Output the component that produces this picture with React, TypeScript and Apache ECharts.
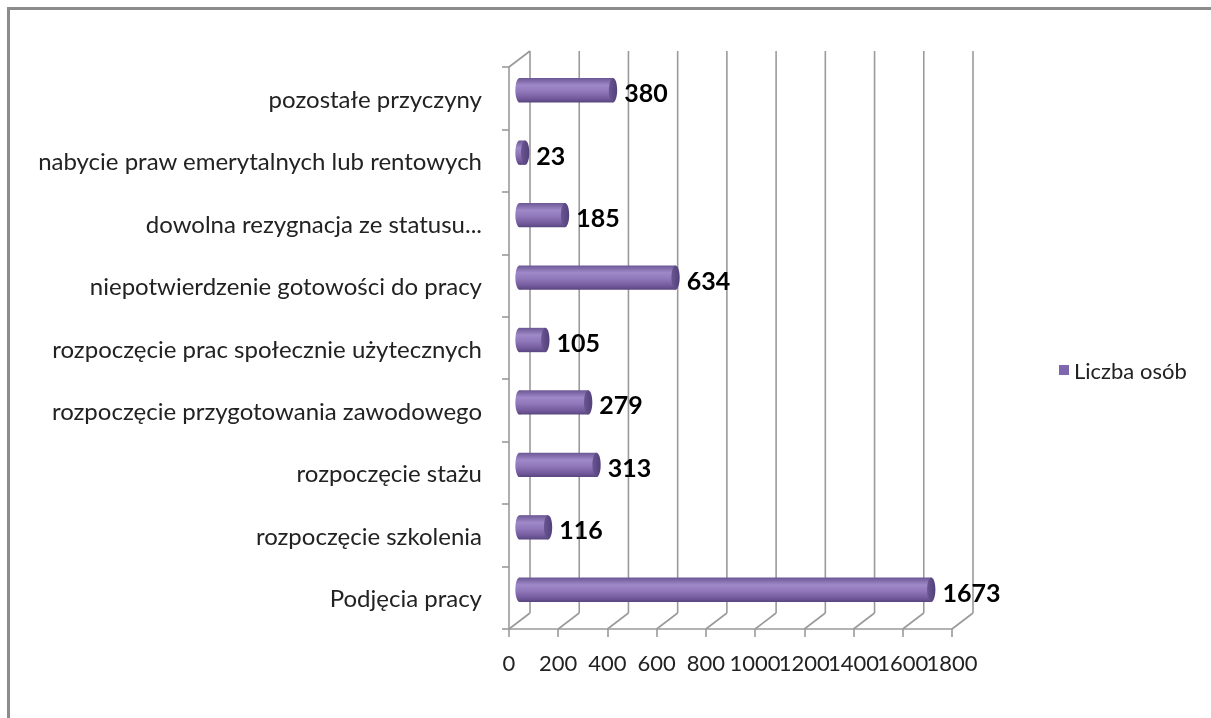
import { useEffect, useRef } from "react";
import * as echarts from "echarts";

const categories = [
  "pozostałe przyczyny",
  "nabycie praw emerytalnych lub rentowych",
  "dowolna rezygnacja ze statusu...",
  "niepotwierdzenie gotowości do pracy",
  "rozpoczęcie prac społecznie użytecznych",
  "rozpoczęcie przygotowania zawodowego",
  "rozpoczęcie stażu",
  "rozpoczęcie szkolenia",
  "Podjęcia pracy",
];
const values = [380, 23, 185, 634, 105, 279, 313, 116, 1673];
const xTicks = [0, 200, 400, 600, 800, 1000, 1200, 1400, 1600, 1800];
const seriesName = "Liczba osób";

const DX = 21;
const DY = -16;
const GRID = "#9a9a9a";
const FONT = "Lato";

export default function App() {
  const ref = useRef<HTMLDivElement>(null);
  useEffect(() => {
    if (!ref.current) return;
    const chart = echarts.init(ref.current, undefined, { renderer: "svg" });
    const bodyGrad = () =>
      new echarts.graphic.LinearGradient(0, 0, 0, 1, [
        { offset: 0, color: "#6c5795" },
        { offset: 0.3, color: "#9f89c8" },
        { offset: 0.55, color: "#9078bb" },
        { offset: 0.85, color: "#71599b" },
        { offset: 1, color: "#58457e" },
      ]);
    const capGrad = () =>
      new echarts.graphic.LinearGradient(0, 0, 1, 0, [
        { offset: 0, color: "#6a5690" },
        { offset: 1, color: "#52407a" },
      ]);
    chart.setOption({
      animation: false,
      backgroundColor: "transparent",
      textStyle: { fontFamily: FONT },
      legend: {
        data: [seriesName],
        orient: "vertical",
        left: 1054,
        top: 354,
        icon: "rect",
        itemWidth: 10,
        itemHeight: 10,
        itemGap: 6,
        textStyle: { fontSize: 22, color: "#222", fontFamily: FONT },
      },
      grid: { left: 509, top: 67, width: 443, height: 562, containLabel: false },
      xAxis: {
        type: "value",
        min: 0,
        max: 1800,
        interval: 200,
        axisLine: { show: true, lineStyle: { color: GRID, width: 1.6 } },
        axisTick: { show: true, length: 8, lineStyle: { color: GRID, width: 1.6 } },
        splitLine: { show: false },
        axisLabel: { show: false },
      },
      yAxis: {
        type: "category",
        inverse: true,
        data: categories,
        axisLine: { show: true, lineStyle: { color: GRID, width: 1.6 } },
        axisTick: { show: true, length: 7, alignWithLabel: false, lineStyle: { color: GRID, width: 1.6 } },
        axisLabel: { fontSize: 24, color: "#222", margin: 27, fontFamily: FONT },
        splitLine: { show: false },
      },
      series: [
        {
          type: "custom",
          name: "frame",
          silent: true,
          z: 1,
          data: xTicks.map((v) => [v, 0]),
          encode: { x: 0, y: 1 },
          renderItem: (params: any, api: any) => {
            const v = api.value(0);
            const x = api.coord([v, 0])[0];
            const cs = params.coordSys;
            const top = cs.y;
            const bottom = cs.y + cs.height;
            const ls = { stroke: GRID, lineWidth: 1.6, fill: null };
            const children: any[] = [
              { type: "line", shape: { x1: x + DX, y1: top + DY, x2: x + DX, y2: bottom + DY }, style: ls },
              { type: "line", shape: { x1: x + DX, y1: bottom + DY, x2: x, y2: bottom }, style: ls },
              {
                type: "text",
                style: {
                  text: String(v),
                  x,
                  y: bottom + 22,
                  textAlign: "center",
                  textVerticalAlign: "top",
                  align: "center",
                  verticalAlign: "top",
                  fontFamily: FONT,
                  fontSize: 22,
                  fill: "#222",
                },
              },
            ];
            if (v === 0) {
              children.push({ type: "line", shape: { x1: x, y1: top, x2: x + DX, y2: top + DY }, style: ls });
            }
            return { type: "group", children };
          },
        },
        {
          type: "custom",
          name: seriesName,
          z: 5,
          itemStyle: { color: "#7f67ad" },
          data: values.map((v, i) => [v, i]),
          encode: { x: 0, y: 1 },
          renderItem: (params: any, api: any) => {
            const val = api.value(0);
            const cat = api.value(1);
            const s = api.coord([0, cat]);
            const e = api.coord([val, cat]);
            const band = api.size([0, 1])[1];
            const h = band * 0.39;
            const xs = s[0] + DX / 2;
            const xe = e[0] + DX / 2;
            const cy = s[1] + DY / 2;
            const rx = h * 0.17;
            return {
              type: "group",
              children: [
                { type: "ellipse", shape: { cx: xs, cy, rx, ry: h / 2 }, style: { fill: bodyGrad() } },
                { type: "rect", shape: { x: xs, y: cy - h / 2, width: Math.max(0, xe - xs), height: h }, style: { fill: bodyGrad() } },
                { type: "ellipse", shape: { cx: xe, cy, rx, ry: h / 2 }, style: { fill: capGrad() } },
                {
                  type: "text",
                  style: {
                    text: String(val),
                    x: xe + rx + 7,
                    y: cy + 2,
                    textAlign: "left",
                    textVerticalAlign: "middle",
                    align: "left",
                    verticalAlign: "middle",
                    fontFamily: FONT,
                    fontWeight: "bold",
                    fontSize: 25,
                    fill: "#000",
                  },
                },
              ],
            };
          },
        },
      ],
    });
    return () => chart.dispose();
  }, []);
  return (
    <>
      <div
        style={{
          position: "fixed",
          left: 7,
          top: 7,
          width: 1204,
          height: 711,
          borderTop: "3px solid #8c8c8c",
          borderLeft: "3px solid #8c8c8c",
          boxSizing: "border-box",
        }}
      />
      <div ref={ref} style={{ position: "fixed", left: 0, top: 0, width: 1211, height: 718 }} />
    </>
  );
}
